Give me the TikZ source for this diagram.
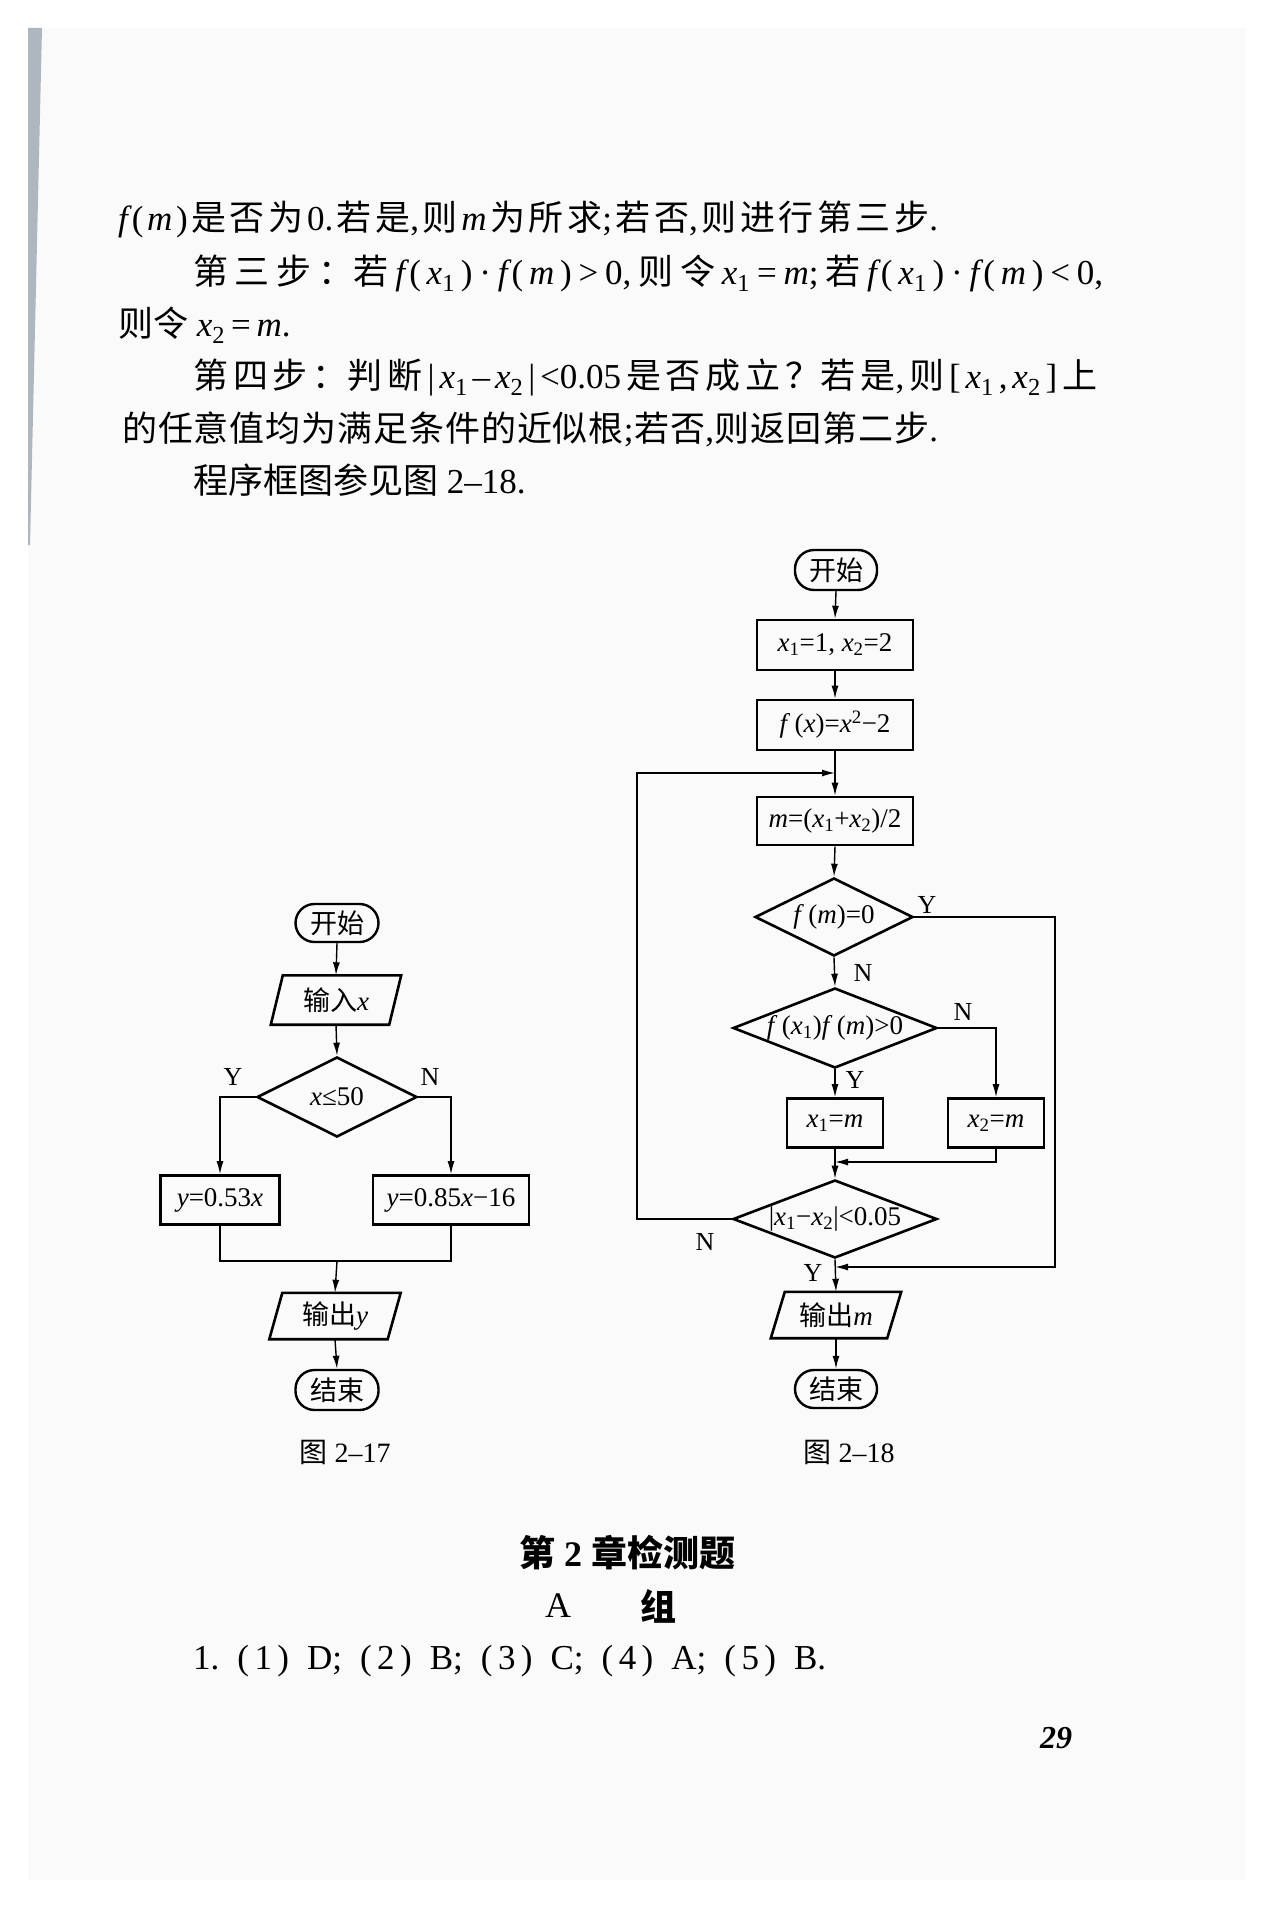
\documentclass[tikz,border=0pt]{standalone}
\usepackage{fontspec}
\setmainfont{Liberation Serif}
\newfontfamily\cjk{Noto Sans CJK SC}
\usetikzlibrary{arrows.meta,shapes.geometric,calc}
\newcommand\iv[1]{\textit{#1}}
\newcommand\sbs[1]{\textsubscript{#1}}
\newcommand\z[1]{{\cjk #1}}
\newcommand\g{\hskip 0pt plus 1fil\relax}
\newcommand\hg{\hskip 0pt plus 0.3fil\relax}
\newcommand\fs{\fontsize{27}{32}\selectfont}
\newcommand\bodyfs{\fontsize{35}{42}\selectfont}
\newcommand\lblfs{\fontsize{26}{30}\selectfont}
\definecolor{pagec}{HTML}{FAFAFA}
\definecolor{stripec}{HTML}{AEB7BF}
\begin{document}
\begin{tikzpicture}[x=1pt,y=-1pt,
  proc/.style={draw, line width=2.6pt, inner sep=0pt, font=\fs},
  term/.style={draw, line width=2.4pt, rounded corners=19pt, inner sep=0pt, font=\fs},
  dec/.style={draw, diamond, line width=2.6pt, inner sep=0pt, font=\fs},
  io/.style={inner sep=0pt, font=\fs},
  iofrm/.style={line width=2.6pt, line join=miter},
  conn/.style={line width=1.4pt},
  arr/.style={conn, -{Latex[length=13pt,width=7pt]}},
  yn/.style={font=\lblfs, inner sep=0pt},
  body/.style={font=\bodyfs, inner sep=0pt, anchor=base west}
]
\useasboundingbox (0,0) rectangle (1278,1910);
\fill[white] (0,0) rectangle (1278,1910);
\fill[pagec] (28,28) rectangle (1245,1880);
\fill[stripec] (28,28) -- (42,28) -- (30,545) -- (28,545) -- cycle;

% ---------- body text ----------
\node[body] (t1) at (118,231) {\makebox[820pt][s]{\iv{f}(\g\iv{m}\g)\g\z{是}\g\z{否}\g\z{为}\g0.\g\z{若}\g\z{是},\g\z{则}\g\iv{m}\g\z{为}\g\z{所}\g\z{求};\g\z{若}\g\z{否},\g\z{则}\g\z{进}\g\z{行}\g\z{第}\g\z{三}\g\z{步}.}};
\node[body] (t2) at (193,284) {\makebox[910pt][s]{\z{第}\g\z{三}\g\z{步}\g\z{：}\z{若}\g\iv{f}(\,\iv{x}\sbs{1}\,)\g·\g\iv{f}(\,\iv{m}\,)\g>\g0,\g\z{则}\g\z{令}\g\iv{x}\sbs{1}\g=\g\iv{m};\g\z{若}\g\iv{f}(\,\iv{x}\sbs{1}\,)\g·\g\iv{f}(\,\iv{m}\,)\g<\g0,}};
\node[body] (t3) at (118,336) {\z{则令} \iv{x}\sbs{2}\,=\,\iv{m}.};
\node[body] (t4) at (193,388) {\makebox[904pt][s]{\z{第}\g\z{四}\g\z{步}\g\z{：}\z{判}\g\z{断}\g|\g\iv{x}\sbs{1}\g–\g\iv{x}\sbs{2}\g|\g<0.05\g\z{是}\g\z{否}\g\z{成}\g\z{立}\g\z{？}\z{若}\g\z{是},\g\z{则}\g[\g\iv{x}\sbs{1}\g,\g\iv{x}\sbs{2}\g]\g\z{上}}};
\node[body] (t5) at (122,441) {\makebox[816pt][s]{\z{的}\g\z{任}\g\z{意}\g\z{值}\g\z{均}\g\z{为}\g\z{满}\g\z{足}\g\z{条}\g\z{件}\g\z{的}\g\z{近}\g\z{似}\g\z{根};\g\z{若}\g\z{否},\g\z{则}\g\z{返}\g\z{回}\g\z{第}\g\z{二}\g\z{步}.}};
\node[body] (t6) at (193,493) {\z{程序框图参见图} 2–18.};

% ---------- figure 2-17 ----------
\node[term, minimum width=83pt, minimum height=38pt] (s1) at (337,923) {\z{开始}};
\node[io, minimum width=118pt, minimum height=49pt] (in1) at (336,1000) {\z{输入}\iv{x}};
\draw[iofrm] ([xshift=6pt]in1.north west) -- ([xshift=6pt]in1.north east) -- ([xshift=-6pt]in1.south east) -- ([xshift=-6pt]in1.south west) -- cycle;
\node[dec, minimum width=160pt, minimum height=80pt] (d1) at (337,1097) {\makebox[0pt]{\iv{x}≤50}};
\node[proc, minimum width=119pt, minimum height=49pt] (b1) at (220,1200) {\iv{y}=0.53\iv{x}};
\node[proc, minimum width=156pt, minimum height=49pt] (b2) at (451,1200) {\iv{y}=0.85\iv{x}−16};
\node[io, minimum width=118pt, minimum height=46pt] (o1) at (335,1316) {\z{输出}\iv{y}};
\draw[iofrm] ([xshift=6.5pt]o1.north west) -- ([xshift=6.5pt]o1.north east) -- ([xshift=-6.5pt]o1.south east) -- ([xshift=-6.5pt]o1.south west) -- cycle;
\node[term, minimum width=83pt, minimum height=40pt] (e1) at (337,1390) {\z{结束}};
\coordinate (m1) at (337,1261);

\draw[arr] (s1.south) -- (in1.north);
\draw[arr] (in1.south) -- (d1.north);
\draw[arr] (d1.west) -| (b1.north);
\draw[arr] (d1.east) -| (b2.north);
\draw[conn] (b1.south) |- (m1);
\draw[conn] (b2.south) |- (m1);
\draw[arr] (m1) -- (o1.north);
\draw[arr] (o1.south) -- (e1.north);
\node[yn] (ly1) at (233,1077) {Y};
\node[yn] (ln1) at (430,1077) {N};
\node[font=\fontsize{28}{32}\selectfont, inner sep=0pt] (c1) at (345,1452) {\z{图} 2–17};

% ---------- figure 2-18 ----------
\node[term, minimum width=82pt, minimum height=40pt] (s2) at (836,570) {\z{开始}};
\node[proc, minimum width=156pt, minimum height=50pt] (a1) at (835,645) {\iv{x}\sbs{1}=1, \iv{x}\sbs{2}=2};
\node[proc, minimum width=156pt, minimum height=50pt] (a2) at (835,725) {\iv{f}\,(\iv{x})=\iv{x}\textsuperscript{2}−2};
\node[proc, minimum width=156pt, minimum height=48pt] (a3) at (835,821) {\iv{m}=(\iv{x}\sbs{1}+\iv{x}\sbs{2})/2};
\node[dec, minimum width=158pt, minimum height=78pt] (d2) at (834,917) {\makebox[0pt]{\iv{f}\,(\iv{m})=0}};
\node[dec, minimum width=204pt, minimum height=80pt] (d3) at (835,1028) {\makebox[0pt]{\iv{f}\,(\iv{x}\sbs{1})\iv{f}\,(\iv{m})>0}};
\node[proc, minimum width=96pt, minimum height=49pt] (b3) at (835,1123) {\iv{x}\sbs{1}=\iv{m}};
\node[proc, minimum width=96pt, minimum height=49pt] (b4) at (996,1123) {\iv{x}\sbs{2}=\iv{m}};
\node[dec, minimum width=204pt, minimum height=78pt] (d4) at (835,1219) {\makebox[0pt]{|\iv{x}\sbs{1}−\iv{x}\sbs{2}|<0.05}};
\node[io, minimum width=116pt, minimum height=46pt] (o2) at (836,1315) {\z{输出}\iv{m}};
\draw[iofrm] ([xshift=7pt]o2.north west) -- ([xshift=7pt]o2.north east) -- ([xshift=-7pt]o2.south east) -- ([xshift=-7pt]o2.south west) -- cycle;
\node[term, minimum width=82pt, minimum height=38pt] (e2) at (836,1389) {\z{结束}};
\coordinate (j0) at (835,773);
\coordinate (j1) at (835,1162);
\coordinate (j2) at (835,1267);
\coordinate (lx) at (637,1219);
\coordinate (rx) at (1055,917);

\draw[arr] (s2.south) -- (a1.north);
\draw[arr] (a1.south) -- (a2.north);
\draw[arr] (a2.south) -- (a3.north);
\draw[arr] (a3.south) -- (d2.north);
\draw[arr] (d2.south) -- (d3.north);
\draw[arr] (d3.south) -- (b3.north);
\draw[arr] (d3.east) -| (b4.north);
\draw[arr] (b3.south) -- (d4.north);
\draw[arr] (b4.south) |- (j1);
\draw[arr] (d4.west) -- (lx) |- (j0);
\draw[arr] (d2.east) -- (rx) |- (j2);
\draw[arr] (d4.south) -- (o2.north);
\draw[arr] (o2.south) -- (e2.north);
\node[yn] (ly2) at (927,905) {Y};
\node[yn] (ln2) at (863,973) {N};
\node[yn] (ln3) at (963,1012) {N};
\node[yn] (ly3) at (855,1080) {Y};
\node[yn] (ln4) at (705,1242) {N};
\node[yn] (ly4) at (813,1273) {Y};
\node[font=\fontsize{28}{32}\selectfont, inner sep=0pt] (c2) at (849,1452) {\z{图} 2–18};

% ---------- bottom ----------
\node[font=\fontsize{36}{40}\selectfont\bfseries, inner sep=0pt] (h1) at (627,1553) {\z{第} 2 \z{章检测题}};
\node[font=\fontsize{36}{40}\selectfont, inner sep=0pt] (h2a) at (558,1606) {A};
\node[font=\fontsize{36}{40}\selectfont\bfseries, inner sep=0pt] (h2b) at (658,1606) {\z{组}};
\node[body] (q1) at (193,1669) {\makebox[633pt][s]{1.\g(\hg1\hg)\g D;\g(\hg2\hg)\g B;\g(\hg3\hg)\g C;\g(\hg4\hg)\g A;\g(\hg5\hg)\g B.}};
\node[font=\fontsize{32}{36}\selectfont\bfseries\itshape, inner sep=0pt] (pn) at (1056,1738) {29};
\end{tikzpicture}
\end{document}
